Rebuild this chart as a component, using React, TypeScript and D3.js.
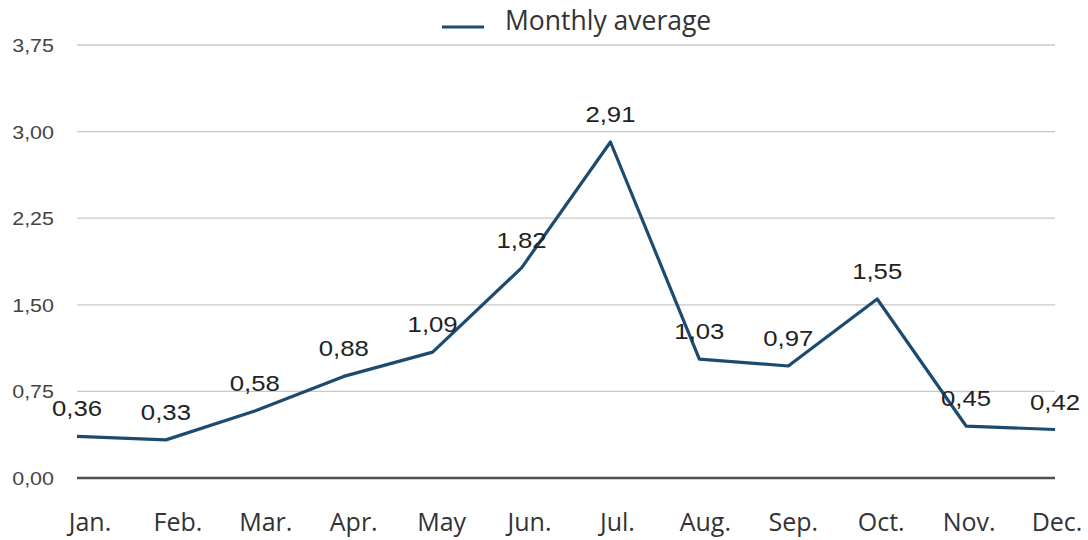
import React from "react";
import * as d3 from "d3";

const months = ["Jan.", "Feb.", "Mar.", "Apr.", "May", "Jun.", "Jul.", "Aug.", "Sep.", "Oct.", "Nov.", "Dec."];
const values = [0.36, 0.33, 0.58, 0.88, 1.09, 1.82, 2.91, 1.03, 0.97, 1.55, 0.45, 0.42];
const yTicks = [0, 0.75, 1.5, 2.25, 3.0, 3.75];
const seriesName = "Monthly average";

const W = 1088;
const H = 540;
const lineColor = "#1d4b70";

export default function App() {
  const x = d3.scalePoint<string>().domain(months).range([77, 1055]);
  const xl = d3.scalePoint<string>().domain(months).range([90, 1057]);
  const y = d3.scaleLinear().domain([0, 3.75]).range([478, 45]);
  const fmt = (v: number) => v.toFixed(2).replace(".", ",");
  const line = d3
    .line<number>()
    .x((_, i) => x(months[i]) as number)
    .y((d) => y(d));

  return (
    <svg width={W} height={H} style={{ position: "absolute", left: 0, top: 0, background: "#fff" }}>
      <rect width={W} height={H} fill="#fff" />
      {yTicks.map((t) => (
        <g key={t}>
          <line
            x1={77}
            x2={1055}
            y1={y(t)}
            y2={y(t)}
            stroke={t === 0 ? "#505050" : "#c8c8c8"}
            strokeWidth={t === 0 ? 2.5 : 1.3}
          />
          <text
            transform={`translate(54,${y(t) + 7}) scale(1.13,1)`}
            textAnchor="end"
            fontFamily="'Liberation Sans', Arial, sans-serif"
            fontSize={19}
            fill="#444"
          >
            {fmt(t)}
          </text>
        </g>
      ))}
      {months.map((m) => (
        <text
          key={m}
          x={xl(m)}
          y={531}
          textAnchor="middle"
          fontFamily="'Open Sans', 'Noto Sans', sans-serif"
          fontSize={25}
          fill="#333"
        >
          {m}
        </text>
      ))}
      <path d={line(values) || ""} fill="none" stroke={lineColor} strokeWidth={3.2} strokeLinejoin="round" />
      {values.map((v, i) => (
        <text
          key={i}
          transform={`translate(${x(months[i]) as number},${y(v) - 20}) scale(1.12,1)`}
          textAnchor="middle"
          fontFamily="'Liberation Sans', Arial, sans-serif"
          fontSize={23}
          fill="#222"
        >
          {fmt(v)}
        </text>
      ))}
      <line x1={442} x2={484} y1={27} y2={27} stroke={lineColor} strokeWidth={3.2} />
      <text x={505} y={30} fontFamily="'Open Sans', 'Noto Sans', sans-serif" fontSize={26.5} fill="#333">
        {seriesName}
      </text>
    </svg>
  );
}
